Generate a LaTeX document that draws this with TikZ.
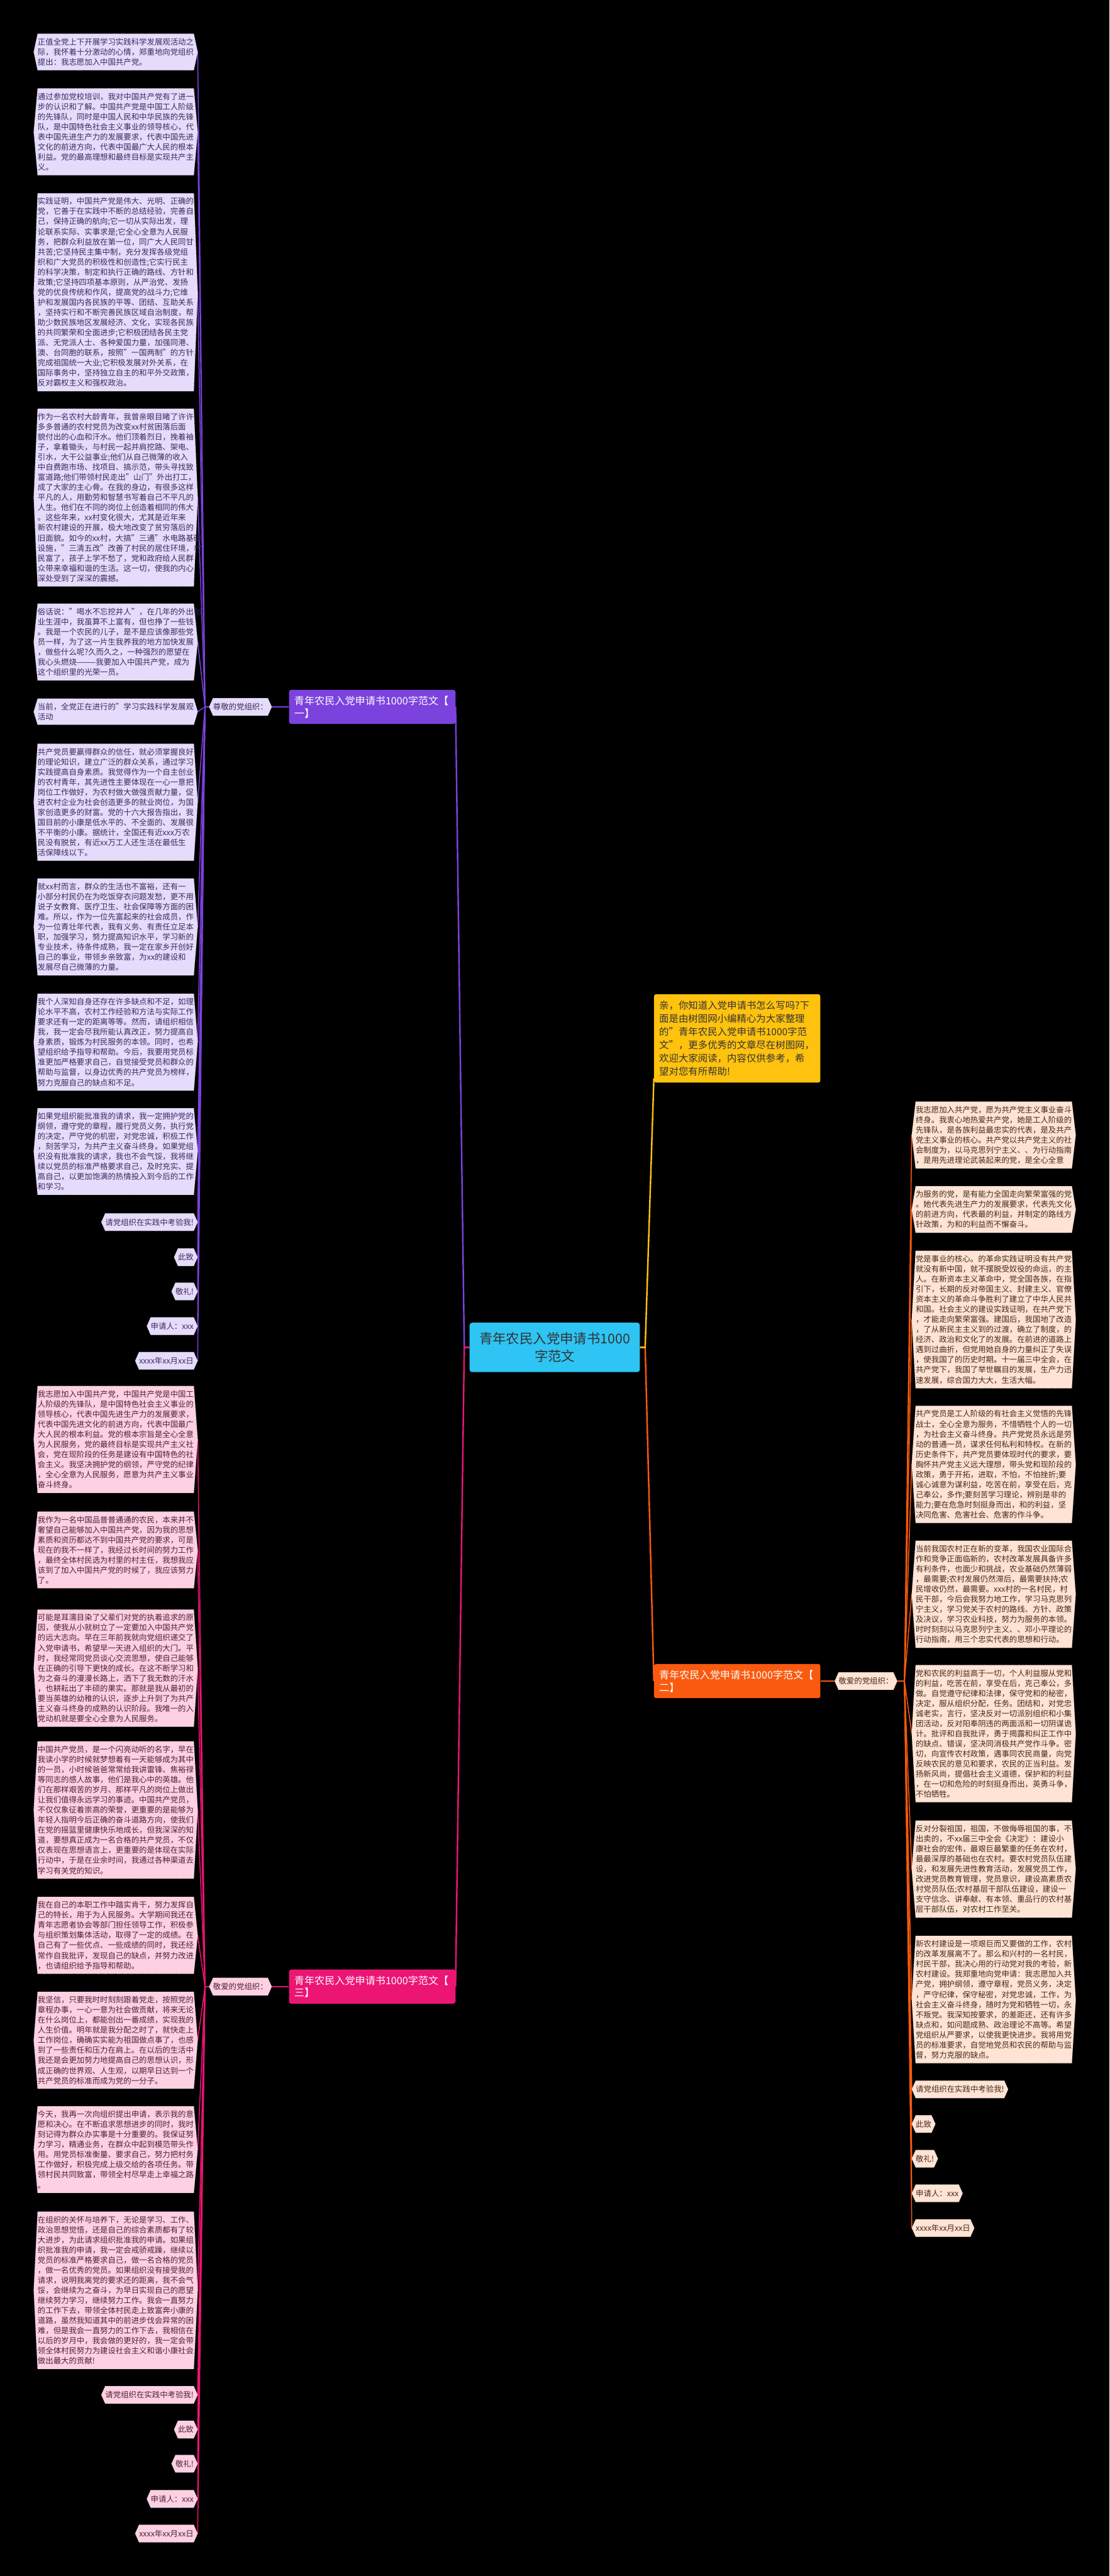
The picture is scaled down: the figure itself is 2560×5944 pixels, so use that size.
\documentclass[tikz,border=0pt]{standalone}
\usepackage{fontspec}
\setmainfont{Noto Sans CJK SC}
\usepackage{xcolor}
\usepackage{tikz}
\usetikzlibrary{positioning,calc,backgrounds}

\definecolor{rootblue}{HTML}{2EC4F3}
\definecolor{introyel}{HTML}{FFC20E}
\definecolor{purp}{HTML}{7B42DE}
\definecolor{purpleaf}{HTML}{E5DBFA}
\definecolor{purptxt}{HTML}{3B2A5E}
\definecolor{mag}{HTML}{EC1574}
\definecolor{magleaf}{HTML}{FDD0E2}
\definecolor{magtxt}{HTML}{4E2236}
\definecolor{orng}{HTML}{FA5A0F}
\definecolor{orngleaf}{HTML}{FFE3D4}
\definecolor{orngtxt}{HTML}{45291C}

\newcommand{\leaffont}{\fontsize{18pt}{23.3pt}\selectfont}
% hexagon fill behind a leaf node
\newcommand{\hexfill}[2]{%
  \filldraw[fill=#2,draw=white!70!gray,densely dotted,line width=0.6pt]
    ($(#1.north west)+(9,0)$) -- ($(#1.north east)+(-9,0)$) -- (#1.east)
    -- ($(#1.south east)+(-9,0)$) -- ($(#1.south west)+(9,0)$) -- (#1.west) -- cycle;}

\begin{document}
\begin{tikzpicture}[x=1pt,y=-1pt,
    every node/.style={font=\leaffont},
    leaf/.style={anchor=north,text width=360pt,inner xsep=9pt,inner ysep=10pt,align=left},
    tagbox/.style={inner xsep=9pt,inner ysep=0pt,minimum height=40pt},
    brnode/.style={fill=#1,text=white,rounded corners=5pt,text width=360pt,
                   align=left,inner xsep=12pt,inner ysep=14pt,
                   font=\fontsize{23.4pt}{29pt}\selectfont},
    leafline/.style={draw=#1,line width=2.2pt},
    trunkline/.style={draw=#1,line width=3.5pt},
  ]
  % Centre
  \node[fill=rootblue,text=black!80,rounded corners=6pt,minimum width=393pt,
        minimum height=114pt,align=center,font=\fontsize{31pt}{41pt}\selectfont]
        (root) at (1280,3109) {青年农民入党申请书1000\\字范文};

  % Intro (top right)
  \node[fill=introyel,text=black!80,rounded corners=5pt,text width=360pt,
        inner xsep=12pt,inner ysep=15pt,align=left,
        font=\fontsize{22.4pt}{30.6pt}\selectfont] (intro) at (1701,2396)
        {亲，你知道入党申请书怎么写吗?下\\面是由树图网小编精心为大家整理\\的"青年农民入党申请书1000字范\\文"，更多优秀的文章尽在树图网，\\欢迎大家阅读，内容仅供参考，希\\望对您有所帮助!};

  % Branches
  \node[brnode=purp] (b1) at (859,1631) {青年农民入党申请书1000字范文【\\一】};
  \node[brnode=orng] (b2) at (1701,3879) {青年农民入党申请书1000字范文【\\二】};
  \node[brnode=mag]  (b3) at (859,4584) {青年农民入党申请书1000字范文【\\三】};

  \node[tagbox,text=purptxt,anchor=east] (s1) at (627,1631) {尊敬的党组织：};
  \node[tagbox,text=orngtxt,anchor=west] (s2) at (1926,3879) {敬爱的党组织：};
  \node[tagbox,text=magtxt,anchor=east]  (s3) at (627,4584) {敬爱的党组织：};

  \coordinate (j1) at (473,1631);
  \coordinate (j2) at (2087,3879);
  \coordinate (j3) at (473,4584);

  % Branch one leaves
  \node[leaf,text=purptxt] (a1) at (267,78) {正值全党上下开展学习实践科学发展观活动之\\际，我怀着十分激动的心情，郑重地向党组织\\提出：我志愿加入中国共产党。};
  \node[leaf,text=purptxt] (a2) at (267,204) {通过参加党校培训，我对中国共产党有了进一\\步的认识和了解。中国共产党是中国工人阶级\\的先锋队，同时是中国人民和中华民族的先锋\\队，是中国特色社会主义事业的领导核心，代\\表中国先进生产力的发展要求，代表中国先进\\文化的前进方向，代表中国最广大人民的根本\\利益。党的最高理想和最终目标是实现共产主\\义。};
  \node[leaf,text=purptxt] (a3) at (267,446) {实践证明，中国共产党是伟大、光明、正确的\\党，它善于在实践中不断的总结经验，完善自\\己，保持正确的航向;它一切从实际出发，理\\论联系实际、实事求是;它全心全意为人民服\\务，把群众利益放在第一位，同广大人民同甘\\共苦;它坚持民主集中制，充分发挥各级党组\\织和广大党员的积极性和创造性;它实行民主\\的科学决策，制定和执行正确的路线、方针和\\政策;它坚持四项基本原则，从严治党、发扬\\党的优良传统和作风，提高党的战斗力;它维\\护和发展国内各民族的平等、团结、互助关系\\，坚持实行和不断完善民族区域自治制度，帮\\助少数民族地区发展经济、文化，实现各民族\\的共同繁荣和全面进步;它积极团结各民主党\\派、无党派人士、各种爱国力量，加强同港、\\澳、台同胞的联系，按照"一国两制"的方针，\\完成祖国统一大业;它积极发展对外关系，在\\国际事务中，坚持独立自主的和平外交政策，\\反对霸权主义和强权政治。};
  \node[leaf,text=purptxt] (a4) at (267,943) {作为一名农村大龄青年，我曾亲眼目睹了许许\\多多普通的农村党员为改变xx村贫困落后面\\貌付出的心血和汗水。他们顶着烈日，挽着袖\\子，拿着锄头，与村民一起并肩挖路、架电、\\引水，大干公益事业;他们从自己微薄的收入\\中自费跑市场、找项目、搞示范，带头寻找致\\富道路;他们带领村民走出"山门"外出打工，\\成了大家的主心骨。在我的身边，有很多这样\\平凡的人，用勤劳和智慧书写着自己不平凡的\\人生。他们在不同的岗位上创造着相同的伟大\\。这些年来，xx村变化很大，尤其是近年来\\新农村建设的开展，极大地改变了贫穷落后的\\旧面貌。如今的xx村，大搞"三通"水电路基础\\设施，"三清五改"改善了村民的居住环境，村\\民富了，孩子上学不愁了，党和政府给人民群\\众带来幸福和谐的生活。这一切，使我的内心\\深处受到了深深的震撼。};
  \node[leaf,text=purptxt] (a5) at (267,1393) {俗话说："喝水不忘挖井人"，在几年的外出创\\业生涯中，我虽算不上富有，但也挣了一些钱\\。我是一个农民的儿子，是不是应该像那些党\\员一样，为了这一片生我养我的地方加快发展\\，做些什么呢?久而久之，一种强烈的愿望在\\我心头燃烧———我要加入中国共产党，成为\\这个组织里的光荣一员。};
  \node[leaf,text=purptxt] (a6) at (267,1612) {当前，全党正在进行的"学习实践科学发展观\\活动};
  \node[leaf,text=purptxt] (a7) at (267,1716) {共产党员要赢得群众的信任，就必须掌握良好\\的理论知识，建立广泛的群众关系，通过学习\\实践提高自身素质。我觉得作为一个自主创业\\的农村青年，其先进性主要体现在一心一意把\\岗位工作做好，为农村做大做强贡献力量，促\\进农村企业为社会创造更多的就业岗位，为国\\家创造更多的财富。党的十六大报告指出，我\\国目前的小康是低水平的、不全面的、发展很\\不平衡的小康。据统计，全国还有近xxx万农\\民没有脱贫，有近xx万工人还生活在最低生\\活保障线以下。};
  \node[leaf,text=purptxt] (a8) at (267,2027) {就xx村而言，群众的生活也不富裕，还有一\\小部分村民仍在为吃饭穿衣问题发愁，更不用\\说子女教育、医疗卫生、社会保障等方面的困\\难。所以，作为一位先富起来的社会成员，作\\为一位青壮年代表，我有义务、有责任立足本\\职，加强学习，努力提高知识水平，学习新的\\专业技术，待条件成熟，我一定在家乡开创好\\自己的事业，带领乡亲致富，为xx的建设和\\发展尽自己微薄的力量。};
  \node[leaf,text=purptxt] (a9) at (267,2293) {我个人深知自身还存在许多缺点和不足，如理\\论水平不高，农村工作经验和方法与实际工作\\要求还有一定的距离等等。然而，请组织相信\\我，我一定会尽我所能认真改正，努力提高自\\身素质，锻炼为村民服务的本领。同时，也希\\望组织给予指导和帮助。今后，我要用党员标\\准更加严格要求自己，自觉接受党员和群众的\\帮助与监督，以身边优秀的共产党员为榜样，\\努力克服自己的缺点和不足。};
  \node[leaf,text=purptxt] (a10) at (267,2557) {如果党组织能批准我的请求，我一定拥护党的\\纲领，遵守党的章程，履行党员义务，执行党\\的决定，严守党的机密，对党忠诚，积极工作\\，刻苦学习，为共产主义奋斗终身。如果党组\\织没有批准我的请求，我也不会气馁，我将继\\续以党员的标准严格要求自己，及时充实、提\\高自己，以更加饱满的热情投入到今后的工作\\和学习。};
  \node[tagbox,text=purptxt,anchor=east] (a11) at (456,2820) {请党组织在实践中考验我!};
  \node[tagbox,text=purptxt,anchor=east] (a12) at (456,2901) {此致};
  \node[tagbox,text=purptxt,anchor=east] (a13) at (456,2980) {敬礼!};
  \node[tagbox,text=purptxt,anchor=east] (a14) at (456,3060) {申请人：xxx};
  \node[tagbox,text=purptxt,anchor=east] (a15) at (456,3140) {xxxx年xx月xx日};

  % Branch two leaves
  \node[leaf,text=orngtxt] (r1) at (2293,2542) {我志愿加入共产党，愿为共产党主义事业奋斗\\终身。我衷心地热爱共产党，她是工人阶级的\\先锋队，是各族利益最忠实的代表，是及共产\\党主义事业的核心。共产党以共产党主义的社\\会制度为，以马克思列宁主义、、为行动指南\\，是用先进理论武装起来的党，是全心全意};
  \node[leaf,text=orngtxt] (r2) at (2293,2737) {为服务的党，是有能力全国走向繁荣富强的党\\。她代表先进生产力的发展要求，代表先文化\\的前进方向，代表最的利益，并制定的路线方\\针政策，为和的利益而不懈奋斗。};
  \node[leaf,text=orngtxt] (r3) at (2293,2886) {党是事业的核心。的革命实践证明没有共产党\\就没有新中国，就不摆脱受奴役的命运，的主\\人。在新资本主义革命中，党全国各族，在指\\引下，长期的反对帝国主义、封建主义、官僚\\资本主义的革命斗争胜利了建立了中华人民共\\和国。社会主义的建设实践证明，在共产党下\\，才能走向繁荣富强。建国后，我国地了改造\\，了从新民主主义到的过渡，确立了制度，的\\经济、政治和文化了的发展。在前进的道路上\\遇到过曲折，但党用她自身的力量纠正了失误\\，使我国了的历史时期。十一届三中全会，在\\共产党下，我国了举世瞩目的发展，生产力迅\\速发展，综合国力大大，生活大幅。};
  \node[leaf,text=orngtxt] (r4) at (2293,3244) {共产党员是工人阶级的有社会主义觉悟的先锋\\战士，全心全意为服务，不惜牺牲个人的一切\\，为社会主义奋斗终身。共产党党员永远是劳\\动的普通一员，谋求任何私利和特权。在新的\\历史条件下，共产党员要体现时代的要求，要\\胸怀共产党主义远大理想，带头党和现阶段的\\政策，勇于开拓，进取，不怕，不怕挫折;要\\诚心诚意为谋利益，吃苦在前，享受在后，克\\己奉公，多作;要刻苦学习理论，辨别是非的\\能力;要在危急时刻挺身而出，和的利益，坚\\决同危害、危害社会、危害的作斗争。};
  \node[leaf,text=orngtxt] (r5) at (2293,3555) {当前我国农村正在新的变革，我国农业国际合\\作和竞争正面临新的，农村改革发展具备许多\\有利条件，也面少和挑战，农业基础仍然薄弱\\，最需要;农村发展仍然滞后，最需要扶持;农\\民增收仍然，最需要。xxx村的一名村民，村\\民干部，今后会我努力地工作，学习马克思列\\宁主义，学习党关于农村的路线、方针、政策\\及决议，学习农业科技，努力为服务的本领。\\时时刻刻以马克思列宁主义、、邓小平理论的\\行动指南，用三个忠实代表的思想和行动。};
  \node[leaf,text=orngtxt] (r6) at (2293,3842) {党和农民的利益高于一切，个人利益服从党和\\的利益，吃苦在前，享受在后，克己奉公，多\\做。自觉遵守纪律和法律，保守党和的秘密，\\决定，服从组织分配，任务。团结和，对党忠\\诚老实，言行，坚决反对一切派别组织和小集\\团活动，反对阳奉阴违的两面派和一切阴谋诡\\计。批评和自我批评，勇于揭露和纠正工作中\\的缺点、错误，坚决同消极共产党作斗争。密\\切，向宣传农村政策，遇事同农民商量，向党\\反映农民的意见和要求，农民的正当利益。发\\扬新风尚，提倡社会主义道德，保护和的利益\\，在一切和危险的时刻挺身而出，英勇斗争，\\不怕牺牲。};
  \node[leaf,text=orngtxt] (r7) at (2293,4201) {反对分裂祖国，祖国，不做侮辱祖国的事，不\\出卖的，不xx届三中全会《决定》：建设小\\康社会的宏伟，最艰巨最繁重的任务在农村，\\最最深厚的基础也在农村。要农村党员队伍建\\设，和发展先进性教育活动，发展党员工作，\\改进党员教育管理，党员意识，建设高素质农\\村党员队伍;农村基层干部队伍建设，建设一\\支守信念、讲奉献、有本领、重品行的农村基\\层干部队伍，对农村工作至关。};
  \node[leaf,text=orngtxt] (r8) at (2293,4467) {新农村建设是一项艰巨而又要做的工作，农村\\的改革发展离不了。那么和兴村的一名村民，\\村民干部，我决心用的行动党对我的考验，新\\农村建设。我郑重地向党申请：我志愿加入共\\产党，拥护纲领，遵守章程，党员义务，决定\\，严守纪律，保守秘密，对党忠诚，工作，为\\社会主义奋斗终身，随时为党和牺牲一切，永\\不叛党。我深知按要求，的差距还，还有许多\\缺点和，如问题成熟、政治理论不高等。希望\\党组织从严要求，以使我更快进步。我将用党\\员的标准要求，自觉地党员和农民的帮助与监\\督，努力克服的缺点。};
  \node[tagbox,text=orngtxt,anchor=west] (r9) at (2104,4821) {请党组织在实践中考验我!};
  \node[tagbox,text=orngtxt,anchor=west] (r10) at (2104,4901) {此致};
  \node[tagbox,text=orngtxt,anchor=west] (r11) at (2104,4981) {敬礼!};
  \node[tagbox,text=orngtxt,anchor=west] (r12) at (2104,5061) {申请人：xxx};
  \node[tagbox,text=orngtxt,anchor=west] (r13) at (2104,5141) {xxxx年xx月xx日};

  % Branch three leaves
  \node[leaf,text=magtxt] (c1) at (267,3198) {我志愿加入中国共产党，中国共产党是中国工\\人阶级的先锋队，是中国特色社会主义事业的\\领导核心，代表中国先进生产力的发展要求，\\代表中国先进文化的前进方向，代表中国最广\\大人民的根本利益。党的根本宗旨是全心全意\\为人民服务，党的最终目标是实现共产主义社\\会，党在现阶段的任务是建设有中国特色的社\\会主义。我坚决拥护党的纲领，严守党的纪律\\，全心全意为人民服务，愿意为共产主义事业\\奋斗终身。};
  \node[leaf,text=magtxt] (c2) at (267,3488) {我作为一名中国品普普通通的农民，本来并不\\奢望自己能够加入中国共产党，因为我的思想\\素质和资历都达不到中国共产党的要求，可是\\现在的我不一样了，我经过长时间的努力工作\\，最终全体村民选为村里的村主任，我想我应\\该到了加入中国共产党的时候了，我应该努力\\了。};
  \node[leaf,text=magtxt] (c3) at (267,3714) {可能是耳濡目染了父辈们对党的执着追求的原\\因，使我从小就树立了一定要加入中国共产党\\的远大志向。早在三年前我就向党组织递交了\\入党申请书，希望早一天进入组织的大门。平\\时，我经常同党员谈心交流思想，使自己能够\\在正确的引导下更快的成长。在这不断学习和\\为之奋斗的漫漫长路上，洒下了我无数的汗水\\，也耕耘出了丰硕的果实。那就是我从最初的\\要当英雄的幼稚的认识，逐步上升到了为共产\\主义奋斗终身的成熟的认识阶段。我唯一的入\\党动机就是要全心全意为人民服务。};
  \node[leaf,text=magtxt] (c4) at (267,4018) {中国共产党员，是一个闪亮动听的名字，早在\\我读小学的时候就梦想着有一天能够成为其中\\的一员，小时候爸爸常常给我讲雷锋、焦裕禄\\等同志的感人故事，他们是我心中的英雄。他\\们在那样艰苦的岁月、那样平凡的岗位上做出\\让我们值得永远学习的事迹。中国共产党员，\\不仅仅象征着崇高的荣誉，更重要的是能够为\\年轻人指明今后正确的奋斗道路方向，使我们\\在党的摇篮里健康快乐地成长，但我深深的知\\道，要想真正成为一名合格的共产党员，不仅\\仅表现在思想语言上，更重要的是体现在实际\\行动中，于是在业余时间，我通过各种渠道去\\学习有关党的知识。};
  \node[leaf,text=magtxt] (c5) at (267,4377) {我在自己的本职工作中踏实肯干，努力发挥自\\己的特长，用于为人民服务。大学期间我还在\\青年志愿者协会等部门担任领导工作，积极参\\与组织策划集体活动，取得了一定的成绩。在\\自己有了一些优点、一些成绩的同时，我还经\\常作自我批评，发现自己的缺点，并努力改进\\，也请组织给予指导和帮助。};
  \node[leaf,text=magtxt] (c6) at (267,4596) {我坚信，只要我时时刻刻跟着党走，按照党的\\章程办事，一心一意为社会做贡献，将来无论\\在什么岗位上，都能创出一番成绩，实现我的\\人生价值。明年就是我分配之时了，就快走上\\工作岗位，确确实实能为祖国做点事了，也感\\到了一些责任和压力在肩上。在以后的生活中\\我还是会更加努力地提高自己的思想认识，形\\成正确的世界观、人生观，以期早日达到一个\\共产党员的标准而成为党的一分子。};
  \node[leaf,text=magtxt] (c7) at (267,4860) {今天，我再一次向组织提出申请，表示我的意\\愿和决心。在不断追求思想进步的同时，我时\\刻记得为群众办实事是十分重要的。我保证努\\力学习，精通业务，在群众中起到模范带头作\\用。用党员标准衡量、要求自己，努力把村务\\工作做好，积极完成上级交给的各项任务。带\\领村民共同致富，带领全村尽早走上幸福之路\\。};
  \node[leaf,text=magtxt] (c8) at (267,5103) {在组织的关怀与培养下，无论是学习、工作、\\政治思想觉悟，还是自己的综合素质都有了较\\大进步，为此请求组织批准我的申请。如果组\\织批准我的申请，我一定会戒骄戒躁，继续以\\党员的标准严格要求自己，做一名合格的党员\\，做一名优秀的党员。如果组织没有接受我的\\请求，说明我离党的要求还的距离，我不会气\\馁，会继续为之奋斗，为早日实现自己的愿望\\继续努力学习，继续努力工作。我会一直努力\\的工作下去，带领全体村民走上致富奔小康的\\道路，虽然我知道其中的前进步伐会异常的困\\难，但是我会一直努力的工作下去，我相信在\\以后的岁月中，我会做的更好的，我一定会带\\领全体村民努力为建设社会主义和谐小康社会\\做出最大的贡献!};
  \node[tagbox,text=magtxt,anchor=east] (c9) at (456,5526) {请党组织在实践中考验我!};
  \node[tagbox,text=magtxt,anchor=east] (c10) at (456,5606) {此致};
  \node[tagbox,text=magtxt,anchor=east] (c11) at (456,5685) {敬礼!};
  \node[tagbox,text=magtxt,anchor=east] (c12) at (456,5766) {申请人：xxx};
  \node[tagbox,text=magtxt,anchor=east] (c13) at (456,5846) {xxxx年xx月xx日};

  % Connectors and leaf shapes behind the text
  \begin{scope}[on background layer]
    \fill[black] (0,0) rectangle (2560,5944);
    \draw[trunkline=purp] (root.west) -- ++(-12,0) -- (b1.east);
    \draw[trunkline=mag] (root.west) -- ++(-12,0) -- (b3.east);
    \draw[trunkline=orng] (root.east) -- ++(12,0) -- (b2.west);
    \draw[trunkline=introyel] (root.east) -- ++(12,0) -- ($(intro.south west)+(0,-10)$);
    \draw[trunkline=purp] (b1.west) -- (s1.east);
    \draw[trunkline=orng] (b2.east) -- (s2.west);
    \draw[trunkline=mag] (b3.west) -- (s3.east);
    \draw[leafline=purp] (s1.west) -- (j1);
    \draw[leafline=orng] (s2.east) -- (j2);
    \draw[leafline=mag] (s3.west) -- (j3);
    \foreach \i in {1,...,15} \draw[leafline=purp] (j1) -- (a\i.east);
    \foreach \i in {1,...,13} \draw[leafline=orng] (j2) -- (r\i.west);
    \foreach \i in {1,...,13} \draw[leafline=mag] (j3) -- (c\i.east);
    \hexfill{s1}{purpleaf}
    \hexfill{s2}{orngleaf}
    \hexfill{s3}{magleaf}
    \foreach \i in {1,...,15} {\hexfill{a\i}{purpleaf}}
    \foreach \i in {1,...,13} {\hexfill{r\i}{orngleaf}}
    \foreach \i in {1,...,13} {\hexfill{c\i}{magleaf}}
  \end{scope}
  \useasboundingbox (0,0) rectangle (2560,5944);
\end{tikzpicture}
\end{document}
